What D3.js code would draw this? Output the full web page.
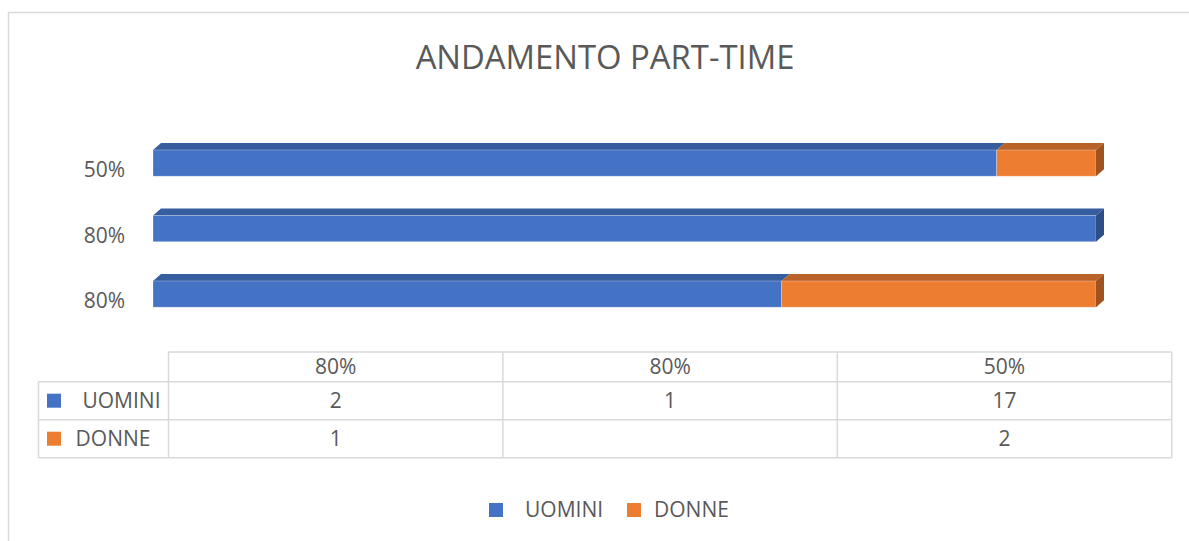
<!DOCTYPE html>
<html>
<head>
<meta charset="utf-8">
<script src="https://cdn.jsdelivr.net/npm/d3@7"></script>
<style>
  body { margin: 0; background: #fff; }
  text { font-family: "Open Sans", sans-serif; fill: #595959; }
</style>
</head>
<body>
<div id="chart"></div>
<script>
// data
var categories = ["80%", "80%", "50%"];
var uomini = [2, 1, 17];
var donne = [1, null, 2];
var seriesNames = ["UOMINI", "DONNE"];

var W = 1189, H = 541;
var front = ["#4472c4", "#ed7d31"];
var topFace = ["#365d9e", "#b9622a"];
var sideFace = ["#2d4e88", "#a0531f"];
var dx = 8, dy = -7;
var fs = 21;

var svg = d3.select("#chart").append("svg").attr("width", W).attr("height", H);

// chart area border (only top/left visible)
svg.append("rect")
    .attr("x", 8.5).attr("y", 12.5)
    .attr("width", 1300).attr("height", 700)
    .attr("fill", "#fff")
    .attr("stroke", "#d9d9d9")
    .attr("stroke-width", 1.5);

svg.append("text")
    .text("ANDAMENTO PART-TIME")
    .attr("x", 605)
    .attr("y", 69)
    .attr("text-anchor", "middle")
    .attr("font-size", 32.8);

var rows = categories.map(function(c, i){
    return { idx: i, cat: c, UOMINI: uomini[i] || 0, DONNE: donne[i] || 0 };
});

var stacked = d3.stack().keys(seriesNames).offset(d3.stackOffsetExpand)(rows);

var xScale = d3.scaleLinear().domain([0, 1]).range([153, 1096]);
var yScale = d3.scaleBand().domain([2, 1, 0]).range([130.35, 326.85])
    .paddingInner(0.6).paddingOuter(0.3);
var bw = yScale.bandwidth();

var plot = svg.append("g");

stacked.forEach(function(layer, s){
    var g = plot.append("g");
    layer.forEach(function(d){
        if (d[1] - d[0] <= 0) return;
        var x0 = xScale(d[0]), x1 = xScale(d[1]), y = yScale(d.data.idx);
        // top face
        g.append("path")
            .attr("d", "M" + x0 + "," + y + "L" + (x0 + dx) + "," + (y + dy) +
                "L" + (x1 + dx) + "," + (y + dy) + "L" + x1 + "," + y + "Z")
            .attr("fill", topFace[s]);
        // front face
        g.append("rect")
            .attr("x", x0).attr("y", y)
            .attr("width", x1 - x0).attr("height", bw)
            .attr("fill", front[s])
            .attr("stroke", "rgba(255,255,255,0.35)")
            .attr("stroke-width", 0.8);
        // side face at the end of the bar
        if (d[1] >= 1) {
            g.append("path")
                .attr("d", "M" + x1 + "," + y + "L" + (x1 + dx) + "," + (y + dy) +
                    "L" + (x1 + dx) + "," + (y + dy + bw) + "L" + x1 + "," + (y + bw) + "Z")
                .attr("fill", sideFace[s]);
        }
    });
});

// category labels
plot.selectAll(".cat")
    .data(rows)
    .enter()
    .append("text")
    .attr("class", "cat")
    .text(function(d){ return d.cat; })
    .attr("x", 125)
    .attr("y", function(d){ return yScale(d.idx) + bw / 2 + 7; })
    .attr("dy", "0.35em")
    .attr("text-anchor", "end")
    .attr("font-size", fs);

// data table
var colScale = d3.scaleBand().domain([0, 1, 2]).range([168.5, 1171.7]);
var headTop = 352, headBot = 381.7, rowH = 38;
var tableBot = headBot + rowH * 2;
var table = svg.append("g").attr("stroke", "#d9d9d9").attr("stroke-width", 1.5).attr("fill", "none");

table.append("line").attr("x1", 168.5).attr("x2", 1171.7).attr("y1", headTop).attr("y2", headTop);
[0, 1, 2].forEach(function(r){
    table.append("line").attr("x1", 38.5).attr("x2", 1171.7)
        .attr("y1", headBot + r * rowH).attr("y2", headBot + r * rowH);
});
table.append("line").attr("x1", 38.5).attr("x2", 38.5).attr("y1", headBot).attr("y2", tableBot);
[0, 1, 2].forEach(function(c){
    table.append("line").attr("x1", colScale(c)).attr("x2", colScale(c))
        .attr("y1", headTop).attr("y2", tableBot);
});
table.append("line").attr("x1", 1171.7).attr("x2", 1171.7).attr("y1", headTop).attr("y2", tableBot);

svg.selectAll(".head")
    .data(rows)
    .enter()
    .append("text")
    .text(function(d){ return d.cat; })
    .attr("x", function(d){ return colScale(d.idx) + colScale.bandwidth() / 2; })
    .attr("y", (headTop + headBot) / 2)
    .attr("dy", "0.35em")
    .attr("text-anchor", "middle")
    .attr("font-size", fs);

var seriesVals = [uomini, donne];
var rowLabelX = [121.5, 113];
seriesNames.forEach(function(name, s){
    var cy = headBot + rowH * s + rowH / 2;
    svg.append("rect")
        .attr("x", 47).attr("y", cy - 7)
        .attr("width", 14).attr("height", 14)
        .attr("fill", front[s]);
    svg.append("text")
        .text(name)
        .attr("x", rowLabelX[s])
        .attr("y", cy)
        .attr("dy", "0.35em")
        .attr("text-anchor", "middle")
        .attr("font-size", fs);
    svg.selectAll(".val" + s)
        .data(seriesVals[s])
        .enter()
        .append("text")
        .text(function(d){ return d == null ? "" : d; })
        .attr("x", function(d, i){ return colScale(i) + colScale.bandwidth() / 2; })
        .attr("y", cy)
        .attr("dy", "0.35em")
        .attr("text-anchor", "middle")
        .attr("font-size", fs);
});

// legend
var legendX = [489, 627];
var legend = svg.append("g");
seriesNames.forEach(function(name, s){
    legend.append("rect")
        .attr("x", legendX[s]).attr("y", 503)
        .attr("width", 14).attr("height", 14)
        .attr("fill", front[s]);
    legend.append("text")
        .text(name)
        .attr("x", legendX[s] + 27 + (s === 1 ? 0 : 9))
        .attr("y", 510)
        .attr("dy", "0.35em")
        .attr("font-size", fs);
});
</script>
</body>
</html>
